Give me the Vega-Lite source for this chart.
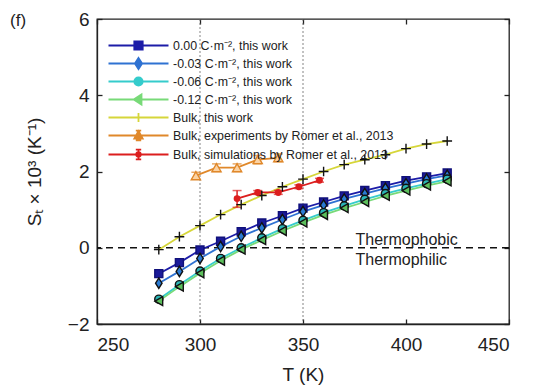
{
  "$schema": "https://vega.github.io/schema/vega-lite/v6.json",
  "autosize": "none",
  "width": 412,
  "height": 305,
  "padding": {"left": 97, "top": 19, "right": 25, "bottom": 67},
  "config": {
    "font": "Liberation Sans",
    "view": {"stroke": "#222", "strokeWidth": 1.3},
    "axis": {
      "grid": false,
      "domainColor": "#222",
      "domainWidth": 1.3,
      "tickColor": "#222",
      "tickWidth": 1.3,
      "tickSize": -5,
      "labelColor": "#222",
      "titleColor": "#222",
      "labelFontSize": 19,
      "titleFontSize": 19,
      "titleFontWeight": "normal"
    }
  },
  "title": {
    "text": "(f)",
    "anchor": "start",
    "frame": "group",
    "dx": -87,
    "dy": 24,
    "fontSize": 17,
    "fontWeight": "normal",
    "color": "#222"
  },
  "data": {
    "values": [
      {"series": " 0.00 C·m⁻², this work", "T": 280, "S": -0.68},
      {"series": " 0.00 C·m⁻², this work", "T": 290, "S": -0.39},
      {"series": " 0.00 C·m⁻², this work", "T": 300, "S": -0.06},
      {"series": " 0.00 C·m⁻², this work", "T": 310, "S": 0.17},
      {"series": " 0.00 C·m⁻², this work", "T": 320, "S": 0.42},
      {"series": " 0.00 C·m⁻², this work", "T": 330, "S": 0.65},
      {"series": " 0.00 C·m⁻², this work", "T": 340, "S": 0.84},
      {"series": " 0.00 C·m⁻², this work", "T": 350, "S": 1.04},
      {"series": " 0.00 C·m⁻², this work", "T": 360, "S": 1.2},
      {"series": " 0.00 C·m⁻², this work", "T": 370, "S": 1.36},
      {"series": " 0.00 C·m⁻², this work", "T": 380, "S": 1.5},
      {"series": " 0.00 C·m⁻², this work", "T": 390, "S": 1.63},
      {"series": " 0.00 C·m⁻², this work", "T": 400, "S": 1.76},
      {"series": " 0.00 C·m⁻², this work", "T": 410, "S": 1.86},
      {"series": " 0.00 C·m⁻², this work", "T": 420, "S": 1.96},
      {"series": "-0.03 C·m⁻², this work", "T": 280, "S": -0.93},
      {"series": "-0.03 C·m⁻², this work", "T": 290, "S": -0.62},
      {"series": "-0.03 C·m⁻², this work", "T": 300, "S": -0.28},
      {"series": "-0.03 C·m⁻², this work", "T": 310, "S": 0.03},
      {"series": "-0.03 C·m⁻², this work", "T": 320, "S": 0.3},
      {"series": "-0.03 C·m⁻², this work", "T": 330, "S": 0.52},
      {"series": "-0.03 C·m⁻², this work", "T": 340, "S": 0.74},
      {"series": "-0.03 C·m⁻², this work", "T": 350, "S": 0.95},
      {"series": "-0.03 C·m⁻², this work", "T": 360, "S": 1.12},
      {"series": "-0.03 C·m⁻², this work", "T": 370, "S": 1.28},
      {"series": "-0.03 C·m⁻², this work", "T": 380, "S": 1.42},
      {"series": "-0.03 C·m⁻², this work", "T": 390, "S": 1.56},
      {"series": "-0.03 C·m⁻², this work", "T": 400, "S": 1.68},
      {"series": "-0.03 C·m⁻², this work", "T": 410, "S": 1.8},
      {"series": "-0.03 C·m⁻², this work", "T": 420, "S": 1.9},
      {"series": "-0.06 C·m⁻², this work", "T": 280, "S": -1.35},
      {"series": "-0.06 C·m⁻², this work", "T": 290, "S": -0.97},
      {"series": "-0.06 C·m⁻², this work", "T": 300, "S": -0.61},
      {"series": "-0.06 C·m⁻², this work", "T": 310, "S": -0.28},
      {"series": "-0.06 C·m⁻², this work", "T": 320, "S": 0.0},
      {"series": "-0.06 C·m⁻², this work", "T": 330, "S": 0.26},
      {"series": "-0.06 C·m⁻², this work", "T": 340, "S": 0.5},
      {"series": "-0.06 C·m⁻², this work", "T": 350, "S": 0.72},
      {"series": "-0.06 C·m⁻², this work", "T": 360, "S": 0.92},
      {"series": "-0.06 C·m⁻², this work", "T": 370, "S": 1.1},
      {"series": "-0.06 C·m⁻², this work", "T": 380, "S": 1.27},
      {"series": "-0.06 C·m⁻², this work", "T": 390, "S": 1.42},
      {"series": "-0.06 C·m⁻², this work", "T": 400, "S": 1.56},
      {"series": "-0.06 C·m⁻², this work", "T": 410, "S": 1.68},
      {"series": "-0.06 C·m⁻², this work", "T": 420, "S": 1.8},
      {"series": "-0.12 C·m⁻², this work", "T": 280, "S": -1.4},
      {"series": "-0.12 C·m⁻², this work", "T": 290, "S": -1.02},
      {"series": "-0.12 C·m⁻², this work", "T": 300, "S": -0.67},
      {"series": "-0.12 C·m⁻², this work", "T": 310, "S": -0.34},
      {"series": "-0.12 C·m⁻², this work", "T": 320, "S": -0.05},
      {"series": "-0.12 C·m⁻², this work", "T": 330, "S": 0.2},
      {"series": "-0.12 C·m⁻², this work", "T": 340, "S": 0.44},
      {"series": "-0.12 C·m⁻², this work", "T": 350, "S": 0.66},
      {"series": "-0.12 C·m⁻², this work", "T": 360, "S": 0.86},
      {"series": "-0.12 C·m⁻², this work", "T": 370, "S": 1.04},
      {"series": "-0.12 C·m⁻², this work", "T": 380, "S": 1.2},
      {"series": "-0.12 C·m⁻², this work", "T": 390, "S": 1.36},
      {"series": "-0.12 C·m⁻², this work", "T": 400, "S": 1.5},
      {"series": "-0.12 C·m⁻², this work", "T": 410, "S": 1.63},
      {"series": "-0.12 C·m⁻², this work", "T": 420, "S": 1.74},
      {"series": "Bulk, this work", "T": 280, "S": -0.05},
      {"series": "Bulk, this work", "T": 290, "S": 0.29},
      {"series": "Bulk, this work", "T": 300, "S": 0.58},
      {"series": "Bulk, this work", "T": 310, "S": 0.87},
      {"series": "Bulk, this work", "T": 320, "S": 1.13},
      {"series": "Bulk, this work", "T": 330, "S": 1.37},
      {"series": "Bulk, this work", "T": 340, "S": 1.6},
      {"series": "Bulk, this work", "T": 350, "S": 1.8},
      {"series": "Bulk, this work", "T": 360, "S": 2.0},
      {"series": "Bulk, this work", "T": 370, "S": 2.18},
      {"series": "Bulk, this work", "T": 380, "S": 2.31},
      {"series": "Bulk, this work", "T": 390, "S": 2.44},
      {"series": "Bulk, this work", "T": 400, "S": 2.6},
      {"series": "Bulk, this work", "T": 410, "S": 2.72},
      {"series": "Bulk, this work", "T": 420, "S": 2.8},
      {"series": "Bulk, experiments by Romer et al., 2013", "T": 298, "S": 1.89, "lo": 1.8, "hi": 1.98},
      {"series": "Bulk, experiments by Romer et al., 2013", "T": 308, "S": 2.1, "lo": 2.0, "hi": 2.2},
      {"series": "Bulk, experiments by Romer et al., 2013", "T": 318, "S": 2.1, "lo": 2.0, "hi": 2.2},
      {"series": "Bulk, experiments by Romer et al., 2013", "T": 328, "S": 2.31, "lo": 2.2, "hi": 2.42},
      {"series": "Bulk, experiments by Romer et al., 2013", "T": 338, "S": 2.36, "lo": 2.26, "hi": 2.46},
      {"series": "Bulk, simulations by Romer et al., 2013", "T": 318, "S": 1.29, "lo": 1.06, "hi": 1.5},
      {"series": "Bulk, simulations by Romer et al., 2013", "T": 328, "S": 1.45, "lo": 1.4, "hi": 1.5},
      {"series": "Bulk, simulations by Romer et al., 2013", "T": 338, "S": 1.45, "lo": 1.4, "hi": 1.5},
      {"series": "Bulk, simulations by Romer et al., 2013", "T": 348, "S": 1.6, "lo": 1.55, "hi": 1.65},
      {"series": "Bulk, simulations by Romer et al., 2013", "T": 358, "S": 1.77, "lo": 1.72, "hi": 1.82}
    ]
  },
  "resolve": {
    "axis": {"x": "independent", "y": "independent"},
    "scale": {"shape": "independent", "fill": "independent", "stroke": "independent", "size": "independent"}
  },
  "layer": [
    {
      "data": {"values": [{"T": 300}, {"T": 350}]},
      "mark": {"type": "rule", "stroke": "#666", "strokeWidth": 0.8, "strokeDash": [2, 2]},
      "encoding": {
        "x": {"field": "T", "type": "quantitative", "scale": {"domain": [250, 450], "nice": false}, "axis": null}
      }
    },
    {
      "data": {"values": [{}]},
      "mark": {"type": "rule", "stroke": "#111", "strokeWidth": 1.4, "strokeDash": [7, 5]},
      "encoding": {
        "y": {"datum": 0, "type": "quantitative", "axis": null}
      }
    },
    {
      "data": {"values": [{}]},
      "mark": {"type": "text", "align": "left", "baseline": "alphabetic", "fontSize": 16, "dy": -3, "color": "#222"},
      "encoding": {
        "x": {"datum": 375.5, "type": "quantitative", "axis": null},
        "y": {"datum": 0, "type": "quantitative", "axis": null},
        "text": {"value": "Thermophobic"}
      }
    },
    {
      "data": {"values": [{}]},
      "mark": {"type": "text", "align": "left", "baseline": "top", "fontSize": 16, "dy": 4, "color": "#222"},
      "encoding": {
        "x": {"datum": 375.5, "type": "quantitative", "axis": null},
        "y": {"datum": 0, "type": "quantitative", "axis": null},
        "text": {"value": "Thermophilic"}
      }
    },
    {
      "mark": {"type": "line", "strokeWidth": 1.8},
      "encoding": {
        "x": {
          "field": "T", "type": "quantitative",
          "scale": {"domain": [250, 450], "nice": false},
          "axis": {"orient": "bottom", "values": [250, 300, 350, 400, 450], "labelPadding": 16, "title": "T (K)", "titlePadding": 11}
        },
        "y": {
          "field": "S", "type": "quantitative",
          "scale": {"domain": [-2, 6], "nice": false, "zero": false},
          "axis": {"orient": "left", "values": [-2, 0, 2, 4, 6], "labelPadding": 13, "title": "Sₜ × 10³ (K⁻¹)", "titlePadding": 23}
        },
        "color": {
          "field": "series", "type": "nominal",
          "scale": {
            "domain": [" 0.00 C·m⁻², this work", "-0.03 C·m⁻², this work", "-0.06 C·m⁻², this work", "-0.12 C·m⁻², this work", "Bulk, this work", "Bulk, experiments by Romer et al., 2013", "Bulk, simulations by Romer et al., 2013"],
            "range": ["#1c1ca8", "#2f72d2", "#35cccc", "#78da78", "#d6d63a", "#e0882a", "#dc1e1e"]
          },
          "legend": {
            "title": null,
            "orient": "none",
            "legendX": 33,
            "legendY": 18,
            "labelFontSize": 12.4,
            "labelColor": "#222",
            "labelLimit": 400,
            "labelOffset": 26,
            "rowPadding": 0,
            "symbolSize": 225,
            "symbolStrokeWidth": 1.8,
            "encode": {
              "symbols": {
                "update": {
                  "size": {"value": 225},
                  "shape": {"signal": "['M-4,0H4M-0.56,-0.56H0.56V0.56H-0.56Z', 'M-4,0H4M0,-0.75L0.48,0L0,0.75L-0.48,0Z', 'M-4,0H4M0.56,0A0.56,0.56 0 1 1 -0.56,0A0.56,0.56 0 1 1 0.56,0Z', 'M-4,0H4M-0.64,0L0.4,-0.68L0.4,0.68Z', 'M-4,0H4M-0.6,0H0.6M0,-0.6V0.6', 'M-4,0H4M0,-0.66V0.66M-0.36,-0.66H0.36M-0.36,0.66H0.36M0,-0.6L0.56,0.42L-0.56,0.42Z', 'M-4,0H4M0,-0.66V0.66M-0.36,-0.66H0.36M-0.36,0.66H0.36M0.3,0A0.3,0.3 0 1 1 -0.3,0A0.3,0.3 0 1 1 0.3,0Z'][datum.index]"},
                  "fill": {"signal": "['#1a1a99', '#2a7bd4', '#2ab5b5', '#5cc05c', 'transparent', '#fbd3a4', '#dc1e1e'][datum.index]"}
                }
              }
            }
          }
        }
      }
    },
    {
      "transform": [{"filter": "isValid(datum.lo)"}],
      "mark": {"type": "rule", "strokeWidth": 1.5},
      "encoding": {
        "x": {
          "field": "T", "type": "quantitative",
          "axis": {"orient": "top", "values": [250, 300, 350, 400, 450], "labels": false, "title": null, "domain": false}
        },
        "y": {
          "field": "lo", "type": "quantitative",
          "axis": {"orient": "right", "values": [-2, 0, 2, 4, 6], "labels": false, "title": null, "domain": false}
        },
        "y2": {"field": "hi"},
        "color": {"field": "series", "type": "nominal"}
      }
    },
    {
      "transform": [{"filter": "isValid(datum.lo)"}],
      "mark": {"type": "tick", "orient": "horizontal", "size": 9, "thickness": 1.5},
      "encoding": {
        "x": {"field": "T", "type": "quantitative", "axis": null},
        "y": {"field": "lo", "type": "quantitative", "axis": null},
        "color": {"field": "series", "type": "nominal"}
      }
    },
    {
      "transform": [{"filter": "isValid(datum.lo)"}],
      "mark": {"type": "tick", "orient": "horizontal", "size": 9, "thickness": 1.5},
      "encoding": {
        "x": {"field": "T", "type": "quantitative", "axis": null},
        "y": {"field": "hi", "type": "quantitative", "axis": null},
        "color": {"field": "series", "type": "nominal"}
      }
    },
    {
      "mark": {"type": "point", "filled": true, "strokeWidth": 1.4, "opacity": 1},
      "encoding": {
        "x": {"field": "T", "type": "quantitative", "axis": null},
        "y": {"field": "S", "type": "quantitative", "axis": null},
        "shape": {
          "field": "series", "type": "nominal", "legend": null,
          "scale": {
            "domain": [" 0.00 C·m⁻², this work", "-0.03 C·m⁻², this work", "-0.06 C·m⁻², this work", "-0.12 C·m⁻², this work", "Bulk, this work", "Bulk, experiments by Romer et al., 2013", "Bulk, simulations by Romer et al., 2013"],
            "range": ["square", "M0,-1.2L0.75,0L0,1.2L-0.75,0Z", "circle", "triangle-left", "M-1,0H1M0,-1V1", "triangle-up", "circle"]
          }
        },
        "fill": {
          "field": "series", "type": "nominal", "legend": null,
          "scale": {
            "domain": [" 0.00 C·m⁻², this work", "-0.03 C·m⁻², this work", "-0.06 C·m⁻², this work", "-0.12 C·m⁻², this work", "Bulk, this work", "Bulk, experiments by Romer et al., 2013", "Bulk, simulations by Romer et al., 2013"],
            "range": ["#1a1a99", "#2a7bd4", "#2ab5b5", "#5cc05c", "transparent", "#fbd3a4", "#dc1e1e"]
          }
        },
        "stroke": {
          "field": "series", "type": "nominal", "legend": null,
          "scale": {
            "domain": [" 0.00 C·m⁻², this work", "-0.03 C·m⁻², this work", "-0.06 C·m⁻², this work", "-0.12 C·m⁻², this work", "Bulk, this work", "Bulk, experiments by Romer et al., 2013", "Bulk, simulations by Romer et al., 2013"],
            "range": ["#10107a", "#111", "#111", "#111", "#111", "#e0882a", "#dc1e1e"]
          }
        },
        "size": {
          "field": "series", "type": "nominal", "legend": null,
          "scale": {
            "type": "ordinal",
            "domain": [" 0.00 C·m⁻², this work", "-0.03 C·m⁻², this work", "-0.06 C·m⁻², this work", "-0.12 C·m⁻², this work", "Bulk, this work", "Bulk, experiments by Romer et al., 2013", "Bulk, simulations by Romer et al., 2013"],
            "range": [64, 75, 66, 80, 95, 85, 30]
          }
        }
      }
    }
  ]
}
